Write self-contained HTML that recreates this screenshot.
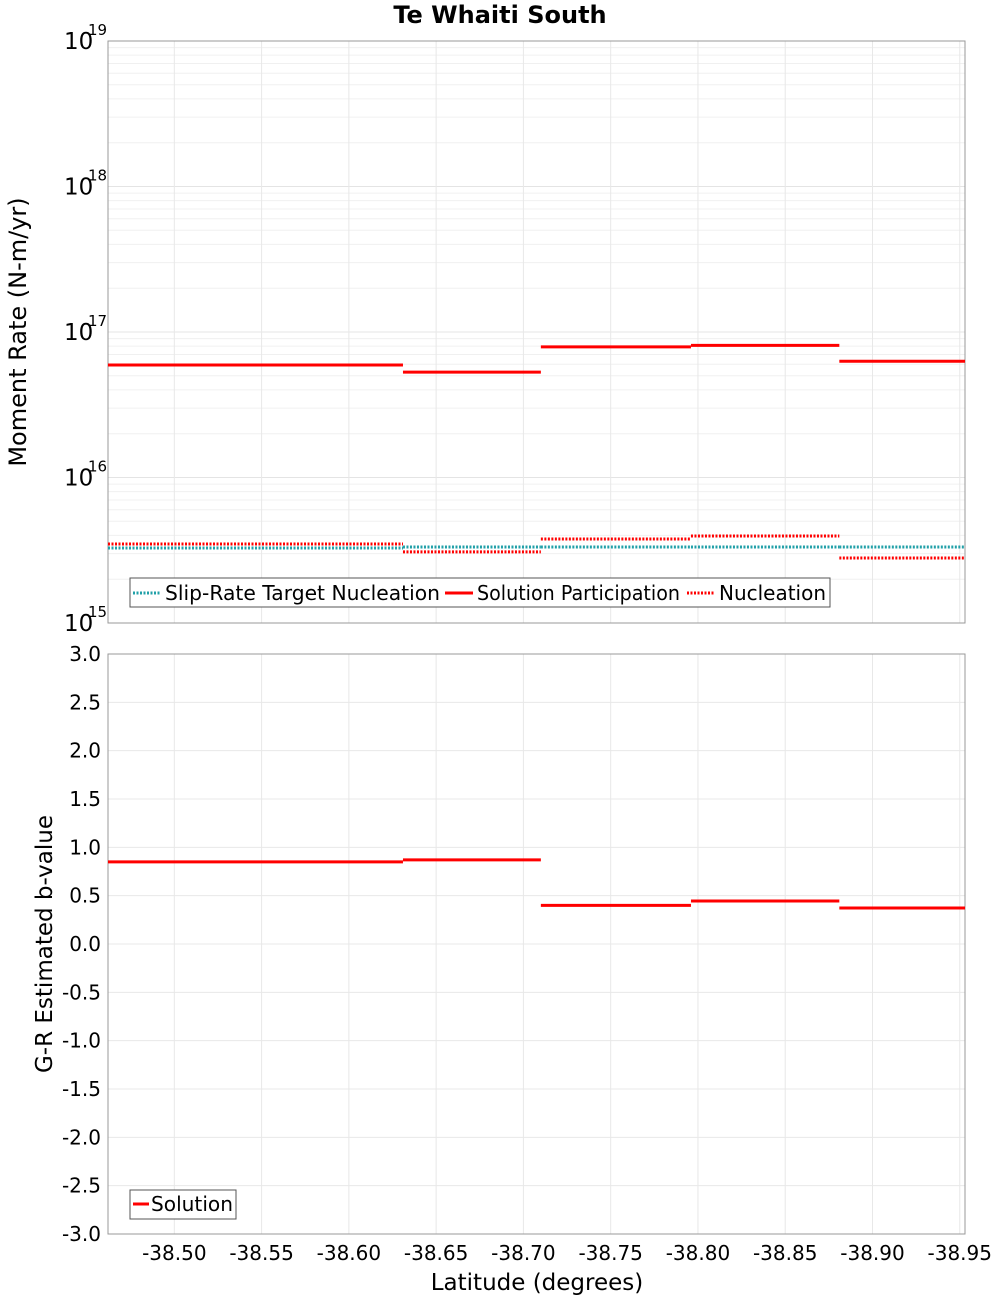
<!DOCTYPE html>
<html><head><meta charset="utf-8"><style>
body{margin:0;background:#fff;font-family:"Liberation Sans","DejaVu Sans",sans-serif}
svg text{font-family:"DejaVu Sans","Liberation Sans",sans-serif}
</style></head><body>
<svg id="c" width="1000" height="1300" xmlns="http://www.w3.org/2000/svg"></svg>
<script>
const segEdges=[-38.462,-38.631,-38.710,-38.796,-38.881,-38.953];
const participation=[5.93e16,5.3e16,7.9e16,8.1e16,6.3e16];
const nucleation=[3.49e15,3.08e15,3.78e15,3.96e15,2.8e15];
const target=[3.28e15,3.33e15,3.33e15,3.33e15,3.33e15];
const bvalues=[0.849,0.87,0.40,0.445,0.373];
const xTicks=[-38.50,-38.55,-38.60,-38.65,-38.70,-38.75,-38.80,-38.85,-38.90,-38.95];
const bTicks=[3.0,2.5,2.0,1.5,1.0,0.5,0.0,-0.5,-1.0,-1.5,-2.0,-2.5,-3.0];
const logTicks=[15,16,17,18,19];

const NS="http://www.w3.org/2000/svg";
const svg=document.getElementById('c');
function mk(t,a,p){const e=document.createElementNS(NS,t);for(const k in a)e.setAttribute(k,a[k]);(p||svg).appendChild(e);return e;}
const L=108,R=965,T1=41,B1=623,T2=654,B2=1234;
const x=v=>L+(v-segEdges[0])/(segEdges[5]-segEdges[0])*(R-L);
const y1=v=>B1-(Math.log10(v)-15)/4*(B1-T1);
const y2=v=>B2-(v+3)/6*(B2-T2);

let t=mk('text',{x:500,y:23,'text-anchor':'middle','font-size':24,'font-weight':'bold'});t.textContent='Te Whaiti South';


for(let d=15;d<19;d++)for(let m=1;m<10;m++){const yy=y1(m*Math.pow(10,d));
 const g=mk('line',{x1:L,x2:R,y1:yy,y2:yy,stroke:m==1?'#e4e4e4':'#f0f0f0','stroke-width':1});
 }
xTicks.forEach(v=>{[ [T1,B1],[T2,B2] ].forEach(([a,b])=>{const g=mk('line',{x1:x(v),x2:x(v),y1:a,y2:b,stroke:'#e8e8e8'});
 });});
bTicks.forEach(v=>{const g=mk('line',{x1:L,x2:R,y1:y2(v),y2:y2(v),stroke:'#e8e8e8'});
 });

[[T1,B1],[T2,B2]].forEach(([a,b],i)=>{const r=mk('rect',{x:L,y:a,width:R-L,height:b-a,fill:'none',stroke:'#999'});
 });

logTicks.forEach(d=>{const yy=y1(Math.pow(10,d));
 const a=mk('text',{x:64,y:yy+8,'font-size':23});a.textContent='10';
 
 const b=mk('text',{x:88,y:yy-6,'font-size':15});b.textContent=String(d);
 });
bTicks.forEach(v=>{const a=mk('text',{x:101,y:y2(v)+7,'font-size':20,'text-anchor':'end'});a.textContent=v.toFixed(1);
 });
xTicks.forEach(v=>{const a=mk('text',{x:x(v),y:1260,'font-size':20,'text-anchor':'middle'});a.textContent=v.toFixed(2);
 });

t=mk('text',{x:537,y:1290,'font-size':23,'text-anchor':'middle'});t.textContent='Latitude (degrees)';

t=mk('text',{x:0,y:0,'font-size':24,'text-anchor':'middle',transform:'translate(26,332) rotate(-90)'});t.textContent='Moment Rate (N-m/yr)';

t=mk('text',{x:0,y:0,'font-size':23,'text-anchor':'middle',transform:'translate(52,944) rotate(-90)'});t.textContent='G-R Estimated b-value';


function seg(arr,yf,style,name){arr.forEach((v,i)=>{const l=mk('line',Object.assign({x1:x(segEdges[i]),x2:x(segEdges[i+1]),y1:yf(v),y2:yf(v)},style));
 });}
seg(target,y1,{stroke:'#20a0a8','stroke-width':3,'stroke-dasharray':'2,1.5'},'target-segment');
seg(participation,y1,{stroke:'#f00','stroke-width':3},'participation-segment');
seg(nucleation,y1,{stroke:'#f00','stroke-width':3,'stroke-dasharray':'2,1.5'},'nucleation-segment');
seg(bvalues,y2,{stroke:'#f00','stroke-width':3},'bvalue-segment');

let g=mk('g',{});
mk('rect',{x:130,y:578,width:700,height:29,fill:'#fff',stroke:'#555'},g);
[[133,'Slip-Rate Target Nucleation','#20a0a8',true,440],[445,'Solution Participation','#f00',false,680],[687,'Nucleation','#f00',true,826]].forEach(([xx,s,c,d,end])=>{
 const l=mk('line',{x1:xx,x2:xx+28,y1:593,y2:593,stroke:c,'stroke-width':3},g);if(d)l.setAttribute('stroke-dasharray','2,1.5');
 
 const tt=mk('text',{x:xx+32,y:600,'font-size':20,textLength:end-xx-32,lengthAdjust:'spacingAndGlyphs'},g);tt.textContent=s;
 });
g=mk('g',{});
mk('rect',{x:130,y:1190,width:106,height:29,fill:'#fff',stroke:'#555'},g);
let l=mk('line',{x1:133,x2:149,y1:1204,y2:1204,stroke:'#f00','stroke-width':3},g);

t=mk('text',{x:151,y:1211,'font-size':20,textLength:82,lengthAdjust:'spacingAndGlyphs'},g);t.textContent='Solution';

</script>
</body></html>
